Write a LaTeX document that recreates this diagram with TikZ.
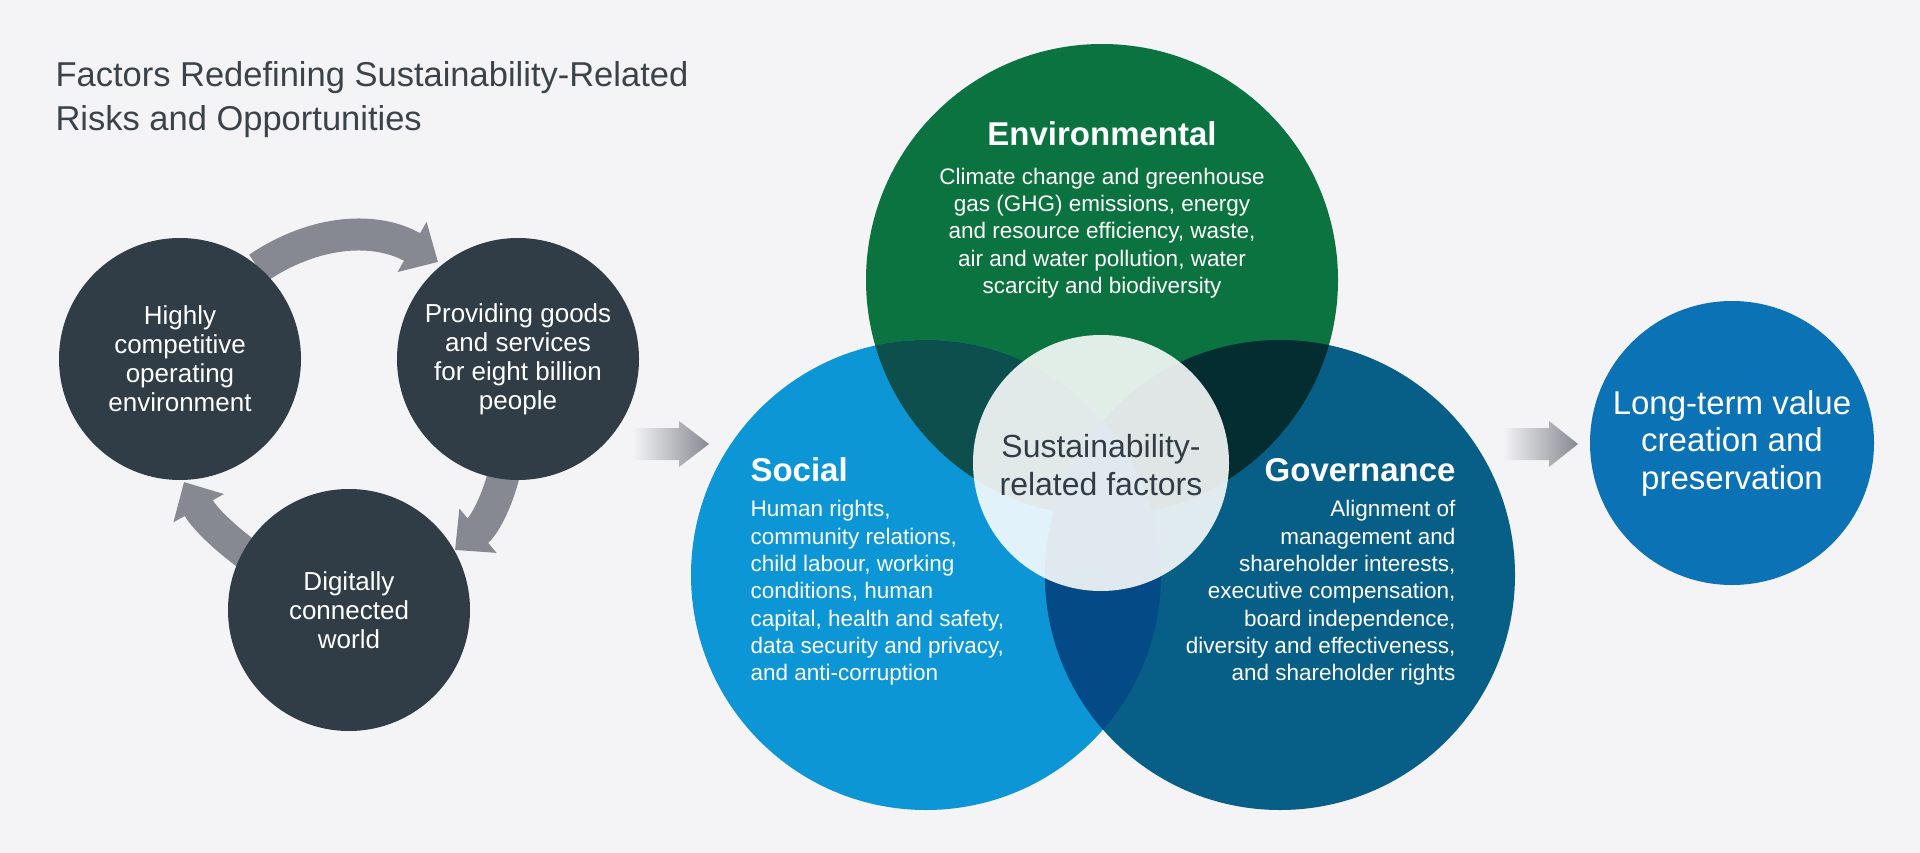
\documentclass[tikz,border=0pt]{standalone}
\usepackage{fontspec}
\setmainfont{Liberation Sans}
\usetikzlibrary{arrows.meta}
\definecolor{bg}{HTML}{F4F4F6}
\definecolor{dark}{HTML}{313D46}
\definecolor{arr}{HTML}{868991}
\definecolor{envc}{HTML}{0B7340}
\definecolor{socc}{HTML}{0C96D6}
\definecolor{govc}{HTML}{075E87}
\definecolor{es}{HTML}{0C4F4C}
\definecolor{eg}{HTML}{032D30}
\definecolor{sg}{HTML}{034A87}
\definecolor{ltc}{HTML}{0B72B5}
\definecolor{ttl}{HTML}{3A424A}
\tikzset{
 dcirc/.style={circle,fill=dark,minimum size=242pt,text=white,align=center,font=\fontsize{26}{29}\selectfont},
 cyc/.style={draw=arr,line width=32pt,-{Triangle[width=56pt,length=30pt]}},
 body/.style={text=white,font=\fontsize{22.5}{27.3}\selectfont},
 head/.style={text=white,font=\bfseries\fontsize{33}{36}\selectfont},
}
\begin{document}
\begin{tikzpicture}[x=1pt,y=-1pt]
\fill[bg] (0,0) rectangle (1920,853);
\useasboundingbox (0,0) rectangle (1920,853);
\node[anchor=base west,text=ttl,align=left,font=\fontsize{34.5}{44}\selectfont] (title) at (52,87) {Factors Redefining Sustainability-Related};
\node[anchor=base west,text=ttl,align=left,font=\fontsize{34.5}{44}\selectfont] (title2) at (52,131) {Risks and Opportunities};
% cycle arrows
\coordinate (a1s) at (258,268); \coordinate (a1e) at (438,262);
\coordinate (a2s) at (505,470); \coordinate (a2e) at (455,550);
\coordinate (a3s) at (248,555); \coordinate (a3e) at (184,482);
\draw[cyc] (a1s) to[bend left=32] (a1e);
\draw[cyc] (a2s) to[bend left=18] (a2e);
\draw[cyc] (a3s) to[bend left=12] (a3e);
\node[dcirc] (hc) at (180,359) {Highly\\competitive\\operating\\environment};
\node[dcirc] (pg) at (518,359) {Providing goods\\and services\\for eight billion\\people};
\node[dcirc] (dw) at (349,610) {Digitally\\connected\\world};
% gradient arrows
\shade[left color=bg,right color=arr] (633,428)--(679,428)--(679,421)--(709,444)--(679,467)--(679,460)--(633,460)--cycle;
\shade[left color=bg,right color=arr] (1503,428)--(1549,428)--(1549,421)--(1578,444)--(1549,467)--(1549,460)--(1503,460)--cycle;
% venn
\coordinate (E) at (1102,280); \coordinate (S) at (926,575); \coordinate (G) at (1280,575);
\fill[envc] (E) circle (236);
\fill[socc] (S) circle (235);
\fill[govc] (G) circle (235);
\begin{scope}\clip (E) circle (236); \fill[es] (S) circle (235); \fill[eg] (G) circle (235); \end{scope}
\begin{scope}\clip (S) circle (235); \fill[sg] (G) circle (235); \end{scope}
\fill[white,opacity=0.88] (1101,463) circle (128);
\node[text=dark,align=center,font=\fontsize{32}{38}\selectfont] (ctr) at (1101,465) {Sustainability-\\related factors};
\node[head,anchor=base] (envh) at (1102,146) {Environmental};
\node[body,align=center] (envb) at (1102,233) {Climate change and greenhouse\\gas (GHG) emissions, energy\\and resource efficiency, waste,\\air and water pollution, water\\scarcity and biodiversity};
\node[head,anchor=base west] (soch) at (747,481) {Social};
\node[body,align=left,anchor=north west] (socb) at (747,497) {Human rights,\\community relations,\\child labour, working\\conditions, human\\capital, health and safety,\\data security and privacy,\\and anti-corruption};
\node[head,anchor=base east] (govh) at (1459,481) {Governance};
\node[body,align=right,anchor=north east] (govb) at (1459,497) {Alignment of\\management and\\shareholder interests,\\executive compensation,\\board independence,\\diversity and effectiveness,\\and shareholder rights};
\node[circle,fill=ltc,minimum size=284pt,text=white,align=center,font=\fontsize{33}{37.5}\selectfont] (lt) at (1732,443) {Long-term value\\creation and\\preservation};
\end{tikzpicture}
\end{document}
